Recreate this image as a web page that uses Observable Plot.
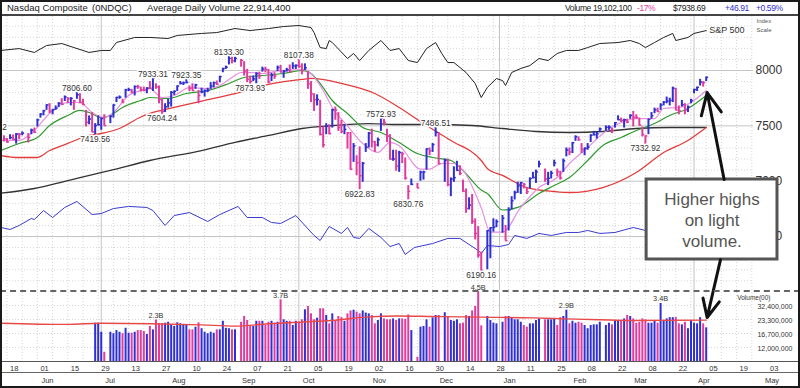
<!DOCTYPE html>
<html><head><meta charset="utf-8">
<script src="https://cdn.jsdelivr.net/npm/d3@7"></script>
<script src="https://cdn.jsdelivr.net/npm/@observablehq/plot@0.6"></script>
<style>
body{margin:0;background:#fff;}
#wrap{position:relative;width:800px;height:388px;overflow:hidden;font-family:Arial,"Liberation Sans",sans-serif;background:#fff;color:#222;}
.abs{position:absolute;}
#frame{left:0;top:0;width:800px;height:388px;box-sizing:border-box;border:2px solid #1a1a1a;z-index:20;pointer-events:none;}
#hdrline{left:0;top:14px;width:800px;height:2px;background:#444;z-index:5;}
.h{position:absolute;top:3px;font-size:9.5px;line-height:10px;white-space:nowrap;}
.hr{position:absolute;top:3px;font-size:8.5px;line-height:10px;letter-spacing:-0.4px;white-space:nowrap;}
#price{left:0;top:16px;z-index:2;}
#vol{left:0;top:292px;z-index:3;}
#axis{left:0;top:361px;z-index:1;}
#dash{left:0;top:290px;width:800px;height:0;border-top:2px dashed #666;z-index:4;}
#l1{left:0;top:361px;width:800px;height:1px;background:#555;z-index:4;}
#l2{left:0;top:372px;width:800px;height:1px;background:#666;z-index:4;}
</style></head>
<body>
<div id="wrap">
  <div class="h" style="left:7px">Nasdaq Composite</div>
  <div class="h" style="left:92px">(0NDQC)</div>
  <div class="h" style="left:147px">Average Daily Volume 22,914,400</div>
  <div class="hr" style="left:565px">Volume 19,102,100</div>
  <div class="hr" style="left:637px;color:#e040a0">-17%</div>
  <div class="hr" style="left:673px">$7938.69</div>
  <div class="hr" style="left:725px;color:#3030d0">+46.91</div>
  <div class="hr" style="left:756px;color:#3030d0">+0.59%</div>
  <div id="hdrline" class="abs"></div>
  <div id="price" class="abs"></div>
  <div id="dash" class="abs"></div>
  <div id="vol" class="abs"></div>
  <div id="l1" class="abs"></div>
  <div id="l2" class="abs"></div>
  <div id="axis" class="abs"></div>
  <div id="frame" class="abs"></div>
</div>
<script>
// ---------------- DATA ----------------
const holidays = ["2018-05-28","2018-07-04","2018-09-03","2018-11-22","2018-12-05","2018-12-25","2019-01-01","2019-01-21","2019-02-18"];
const firstDay = "2018-05-17", lastDay = "2019-04-05";

// daily highs (one per trading day, 2018-05-17 .. 2019-04-05)
const highs = [
 7410,7385, 7420,7418,7430,7432,7445, 7430,7470,7480,7560,
 7610,7640,7690,7700,7650, 7680,7710,7745,7770,7755, 7755,7730,7806.6,7790,7740, 7640,7590,7620,7520,7590,
 7570,7600,7590,7690, 7757,7770,7740,7830,7840, 7830,7860,7866,7850,7850, 7845,7900,7933.31,7880,7860,
 7740,7700,7740,7810,7815, 7860,7900,7895,7923.35,7860, 7880,7875,7820,7840,7825, 7840,7890,7895,7905,7948,
 8020,8040,8133.3,8120,8120, 8100,8080,8010,7950, 7950,7980,7985,8030,8030, 8010,7975,7980,8040,8045,
 8000,8020,8050,8070,8050, 8107.38,8060,8060,7990,7900, 7790,7780,7730,7490,7520, 7510,7650,7670,7620,7550,
 7510,7440,7440,7340,7230, 7310,7170,7340,7440,7470, 7360,7390,7572.93,7560,7470, 7420,7280,7280,7270,7260,
 7210,6960,7020,6980, 7090,7090,7292,7300,7340, 7486.51,7440,7200,7200, 7030,7130,7180,7140,7010,
 6930,6850,6880,6660,6590, 6360,6554,6580,6660, 6650,6690,6600,6760, 6860,6910,6990,6990,6980,
 6940,7030,7080,7100,7180, 7110,7080,7090,7190, 7110,7090,7200,7300,7300, 7350,7410,7400,7340,7300,
 7340,7420,7450,7440,7480, 7500,7500,7480,7530, 7590,7570,7560,7560,7600, 7630,7600,7570,7490,7410,
 7560,7620,7660,7660,7700, 7720,7760,7750,7850,7840, 7680,7730,7700,7680,7740, 7830,7850,7920,7900,7940
];
const lows = [
 7355,7345, 7375,7370,7335,7375,7410, 7345,7420,7430,7490,
 7570,7590,7640,7610,7600, 7640,7665,7690,7720,7700, 7680,7640,7740,7700,7685, 7490,7510,7440,7419.56,7500,
 7460,7500,7520,7570, 7710,7740,7700,7750,7810, 7790,7770,7830,7805,7810, 7790,7830,7810,7830,7700,
 7604.24,7620,7660,7670,7775, 7810,7870,7865,7880,7810, 7815,7830,7700,7790,7760, 7800,7830,7845,7865,7890,
 7980,8010,8050,8060,8070, 8030,7950,7890,7873.93, 7900,7880,7920,7985,7980, 7880,7900,7920,7990,7980,
 7930,7985,7980,8010,8010, 8020,7960,8000,7830,7710, 7630,7680,7410,7300,7420, 7420,7480,7550,7450,7430,
 7420,7290,7100,7170,7050, 6922.83,6990,7260,7300,7300, 7260,7310,7450,7500,7350, 7190,7180,7090,7080,7160,
 7010,6830.76,6960,6935, 7000,7010,7100,7230,7260, 7400,7150,6990,6950, 6860,6990,7090,7050,6900,
 6710,6740,6610,6470,6305, 6190.16,6200,6300,6540, 6580,6530,6460,6550, 6740,6830,6890,6880,6930,
 6880,6930,7020,6980,7120, 6990,6960,7020,7130, 7040,7010,7080,7220,7230, 7250,7360,7360,7250,7230,
 7280,7350,7410,7380,7440, 7450,7460,7430,7480, 7550,7530,7480,7520,7560, 7490,7560,7500,7400,7332.92,
 7420,7560,7610,7620,7640, 7680,7700,7680,7710,7640, 7600,7670,7600,7620,7700, 7790,7810,7860,7850,7900
];
const closes = [
 7382,7354, 7394,7378,7426,7424,7434, 7396,7462,7442,7554,
 7606,7637,7689,7635,7646, 7659,7703,7695,7761,7746, 7747,7725,7781,7712,7692, 7532,7561,7445,7503,7510,
 7567,7502,7586,7688, 7757,7759,7716,7824,7826, 7805,7855,7854,7825,7820, 7841,7840,7932,7852,7737,
 7630,7672,7707,7802,7812, 7860,7884,7888,7892,7839, 7819,7870,7775,7806,7816, 7821,7859,7889,7878,7945,
 8017,8030,8109,8088,8109, 8091,7995,7922,7902, 7924,7972,7954,8013,8010, 7895,7956,7950,8028,7986,
 7993,8007,7990,8041,8046, 8037,7999,8025,7879,7788, 7735,7738,7422,7329,7497, 7430,7645,7642,7485,7449,
 7468,7437,7108,7318,7167, 7050,7161,7306,7434,7357, 7328,7375,7570,7531,7407, 7200,7201,7136,7259,7247,
 7028,6908,6972,6939, 7082,7083,7292,7274,7331, 7441,7158,7188,6970, 7020,7032,7098,7070,6911,
 6753,6784,6637,6528,6333, 6193,6554,6579,6585, 6635,6665,6463,6739, 6823,6897,6957,6986,6971,
 6906,7024,7034,7084,7157, 7020,7026,7073,7165, 7085,7028,7184,7281,7264, 7348,7402,7375,7288,7298,
 7307,7415,7420,7427,7473, 7487,7489,7459,7528, 7555,7550,7555,7533,7595, 7577,7576,7506,7421,7408,
 7559,7592,7644,7630,7688, 7714,7724,7729,7839,7643, 7637,7692,7644,7669,7729, 7828,7848,7895,7891,7938.69
];
// daily volume in millions of (00) shares, from 2018-06-28
const volumeStart = "2018-06-28";
const volumes = [
 21.3,21.3, 17.2,10.7,17.2,16.6, 17.9,17.2,16.6,18.9,16.8, 16.8,17.2,17.9,17.9,17.5, 16.3,19.7,18.2,23.0,21.0,
 21.0,21.3,21.8,20.5,19.7, 21.5,21.0,20.5,20.2,18.2, 18.2,19.4,21.5,18.7,17.2, 16.6,17.2,16.8,18.2,18.2,
 22.3,18.9,18.7,18.2,18.2, 21.8,25.0,22.7,20.2, 19.7,22.3,22.3,22.3,20.2, 21.8,22.3,21.3,21.8,37.0,
 23.1,22.3,22.3,20.2,22.3, 21.8,23.1,29.3,31.7,26.6, 23.1,24.0,30.0,30.0,25.6, 21.0,26.6,22.7,25.0,24.3,
 22.3,26.6,28.5,29.0,27.7, 26.6,28.5,27.1,26.6,25.6, 21.0,22.7,26.6,23.6,23.1, 23.1,23.6,22.7,23.6,23.6,
 23.3,25.9,17.9,9.5, 19.4,19.7,23.1,19.4,24.2, 25.6,25.6,27.3,24.6, 22.7,22.3,23.1,21.0,21.3,
 25.6,25.0,28.5,31.7,45.0, 20.0,25.0,22.7,21.3, 21.0,21.8,25.0,25.0, 24.3,23.1,23.1,21.8,20.2,
 19.4,21.0,21.0,22.7,23.6, 23.1,23.1,23.1,23.6, 20.2,24.3,25.0,29.0,21.0, 22.3,21.3,21.8,21.3,20.2,
 18.7,20.2,20.5,20.5,21.8, 20.2,21.3,20.5,22.7, 22.7,22.7,23.6,25.6,25.0, 23.6,21.3,21.8,23.6,23.1,
 21.3,21.3,22.3,21.3,34.0, 22.3,23.6,24.3,24.3,24.3, 21.0,20.5,21.8,18.7,22.7, 21.3,21.0,24.3,21.0,19.1
];
// moving averages: [session number from 2018-05-18, value]
const ma10 = [[-2,7368],[4,7368],[9,7458],[14,7612],[20,7711],[24,7711],[28,7621],[32,7575],[35,7621],[40,7774],[44,7819],[47,7837],[51,7756],[55,7774],[60,7846],[66,7837],[70,7865],[74,7937],[77,7982],[80,7982],[84,7973],[90,8000],[98,8009],[100,7973],[104,7819],[107,7666],[112,7500],[117,7340],[122,7260],[126,7350],[129,7320],[136,7110],[139,7110],[143,7160],[147,7160],[150,7100],[156,6760],[159,6540],[163,6540],[169,6763],[175,6943],[181,7033],[185,7160],[191,7304],[196,7431],[202,7530],[207,7566],[213,7566],[216,7657],[221,7666],[225,7711],[230,7819]];
const ma21 = [[-2,7277],[4,7341],[10,7395],[14,7503],[20,7594],[24,7639],[27,7621],[31,7575],[34,7594],[38,7666],[44,7729],[47,7756],[53,7747],[59,7792],[66,7819],[73,7883],[78,7937],[84,7955],[91,7973],[97,8000],[100,7973],[103,7883],[107,7729],[112,7612],[117,7485],[123,7440],[129,7350],[135,7250],[140,7214],[146,7187],[150,7097],[156,6920],[158,6889],[163,6740],[168,6763],[175,6889],[180,6961],[185,7033],[191,7187],[196,7323],[202,7395],[207,7458],[213,7521],[218,7594],[224,7657],[230,7774]];
const ma50 = [[-2,7232],[4,7214],[10,7214],[14,7277],[20,7341],[27,7413],[31,7431],[37,7476],[44,7580],[47,7612],[55,7666],[65,7730],[75,7792],[86,7874],[97,7919],[100,7928],[110,7883],[121,7792],[129,7666],[137,7521],[146,7368],[156,7187],[158,7115],[163,7052],[171,6943],[180,6907],[185,6898],[196,6943],[207,7079],[216,7259],[224,7368],[230,7485]];
const ma200 = [[-2,6892],[9,6934],[20,7006],[34,7097],[47,7187],[64,7277],[75,7350],[86,7413],[97,7476],[107,7503],[119,7521],[129,7512],[140,7512],[153,7503],[163,7476],[174,7449],[185,7440],[196,7449],[207,7476],[218,7485],[230,7485]];
// S&P 500 index (own index scale)
const spx = [[-2,2724],[4,2739],[9,2708],[13,2763],[18,2779],[22,2747],[27,2708],[31,2724],[34,2724],[36,2787],[42,2827],[47,2827],[53,2819],[56,2843],[64,2859],[69,2866],[75,2898],[80,2882],[86,2898],[91,2914],[96,2922],[100,2906],[101,2866],[103,2747],[105,2739],[106,2803],[107,2787],[112,2660],[114,2700],[116,2644],[119,2724],[123,2803],[126,2724],[129,2739],[132,2644],[135,2628],[138,2739],[141,2787],[143,2700],[145,2628],[147,2628],[151,2549],[154,2462],[156,2350],[158,2430],[161,2501],[163,2485],[164,2446],[166,2549],[169,2581],[172,2604],[175,2660],[178,2644],[181,2700],[184,2724],[188,2724],[191,2747],[195,2779],[201,2787],[205,2803],[208,2779],[210,2747],[213,2787],[216,2827],[219,2859],[220,2803],[224,2827],[226,2859],[230,2882]];
// relative strength line (drawn on the price index scale)
const rsLine = [[-2,6582],[1,6564],[4,6600],[8,6663],[9,6654],[12,6735],[15,6672],[19,6763],[23,6817],[28,6699],[31,6708],[35,6753],[40,6772],[46,6763],[48,6735],[52,6600],[55,6690],[60,6717],[66,6636],[70,6699],[76,6772],[79,6672],[84,6672],[87,6627],[90,6618],[95,6690],[101,6510],[103,6464],[106,6591],[110,6528],[112,6582],[114,6492],[116,6483],[119,6573],[123,6492],[126,6410],[129,6437],[131,6338],[134,6401],[140,6437],[145,6483],[149,6483],[155,6374],[156,6347],[158,6419],[162,6410],[165,6428],[167,6510],[171,6483],[175,6528],[179,6510],[184,6537],[188,6537],[191,6555],[195,6528],[200,6537],[206,6582],[210,6555],[220,6560],[230,6580]];
// 50-day volume average
const volAvg = [[-2,21.3],[20,20.7],[31,21.3],[64,20.5],[75,19.9],[86,21.0],[102,22.3],[107,22.7],[118,24.6],[129,25.3],[140,25.0],[156,24.6],[173,24.2],[184,23.6],[195,23.1],[206,22.7],[230,22.9]];
// labelled highs / lows
const priceLabels = [
 ["2018-05-11",7449,"7448.42","high"],["2018-06-20",7806.6,"7806.60","high"],["2018-06-28",7419.56,"7419.56","low"],
 ["2018-07-25",7933.31,"7933.31","high"],["2018-07-30",7604.24,"7604.24","low"],["2018-08-09",7923.35,"7923.35","high"],
 ["2018-08-29",8133.3,"8133.30","high"],["2018-09-07",7873.93,"7873.93","low"],["2018-10-01",8107.38,"8107.38","high"],
 ["2018-10-29",6922.83,"6922.83","low"],["2018-11-07",7572.93,"7572.93","high"],["2018-11-20",6830.76,"6830.76","low"],
 ["2018-12-03",7486.51,"7486.51","high"],["2018-12-24",6190.16,"6190.16","low"],["2019-03-08",7332.92,"7332.92","low"]
];
const volLabels = [["2018-07-26","2.3B"],["2018-09-21","3.7B"],["2018-12-21","4.5B"],["2019-01-31","2.9B"],["2019-03-15","3.4B"]];
const priceTicks = [6500,7000,7500,8000];
const volTicks = [12,16.7,23.3,32.4];
const dayTicks = ["2018-05-18","2018-06-01","2018-06-15","2018-06-29","2018-07-13","2018-07-27","2018-08-10","2018-08-24","2018-09-07","2018-09-21","2018-10-05","2018-10-19","2018-11-02","2018-11-16","2018-11-30","2018-12-14","2018-12-28","2019-01-11","2019-01-25","2019-02-08","2019-02-22","2019-03-08","2019-03-22","2019-04-05","2019-04-19","2019-05-03"];
const monthStarts = [["2018-06-01","Jun"],["2018-07-02","Jul"],["2018-08-01","Aug"],["2018-09-03","Sep"],["2018-10-01","Oct"],["2018-11-01","Nov"],["2018-12-03","Dec"],["2019-01-01","Jan"],["2019-02-01","Feb"],["2019-03-01","Mar"],["2019-04-01","Apr"],["2019-05-01","May"]];
const quarterStarts = ["2018-07-02","2018-10-01","2019-01-01","2019-04-01"];
const note = {text:"Higher highs\non light\nvolume.", x1:210.4, x2:253.45, y1:6292.7, y2:7015.4};
const arrowUp = [{x1:235.9, y1:7015, x2:230.3, y2:7801}];
const arrowDown = [{x1:234.7, y1:96, x2:230.3, y2:24.4}];

// ---------------- HELPERS ----------------
const BLUE = "#2f2fd2", PINK = "#e03c9c";
const t0 = Date.UTC(2018,4,18);
function wd(s){ // weekday session number counted from 2018-05-18
  const d = Date.parse(s + "T00:00:00Z");
  const n = Math.round((d - t0)/864e5);
  const w = Math.floor(n/7), r = n - 7*w;
  return 5*w + [0,0.5,0.5,1,2,3,4][r];
}
const hol = new Set(holidays);
const days = [];
for (let t = Date.parse(firstDay+"T00:00:00Z"); t <= Date.parse(lastDay+"T00:00:00Z"); t += 864e5){
  const d = new Date(t), g = d.getUTCDay(), s = d.toISOString().slice(0,10);
  if (g===0 || g===6 || hol.has(s)) continue;
  days.push(s);
}
if (days.length !== closes.length || highs.length !== closes.length || lows.length !== closes.length) console.error("length mismatch", days.length, highs.length, lows.length, closes.length);
const bars = days.map((d,k)=>({i:wd(d), high:highs[k], low:lows[k], close:closes[k], color:(k>0 && closes[k]>=closes[k-1]) ? BLUE : PINK}));
const vStart = days.indexOf(volumeStart);
if (days.length - vStart !== volumes.length) console.error("volume mismatch", days.length - vStart, volumes.length);
const vbars = volumes.map((v,k)=>({i:bars[vStart+k].i, v, color:bars[vStart+k].color}));
const spToPrice = v => 8415.5 - (2930 - v)*1.138;

const PX = 3.04;             // px per session
const xDomPrice = [-2.14, -2.14 + 753/PX];
const xDomAxis  = [-2.14, -2.14 + 800/PX];
const weekGrid = d3.range(-5, 262, 5);
const minorGrid = d3.range(6100, 8500, 100).filter(v => v % 500 !== 0);
const font = "Arial, 'Liberation Sans', sans-serif";
const st = {background:"transparent", overflow:"visible", fontFamily:font};

// ---------------- PRICE PANEL ----------------
const price = Plot.plot({
  width:800, height:274, marginLeft:0, marginRight:47, marginTop:0, marginBottom:0,
  style:st,
  x:{type:"linear", domain:xDomPrice, axis:null},
  y:{type:"linear", domain:[6012.7, 8487.8], axis:null},
  marks:[
    Plot.ruleY(minorGrid, {stroke:"#d6d6d6", strokeDasharray:"1,2"}),
    Plot.ruleX(weekGrid.filter(v=>v<=xDomPrice[1]), {stroke:"#d6d6d6", strokeDasharray:"1,2"}),
    Plot.ruleX(quarterStarts, {x:d=>wd(d), stroke:"#c4c4c4"}),
    Plot.ruleY(priceTicks, {stroke:"#c4c4c4"}),
    Plot.text(priceTicks, {y:d=>d, frameAnchor:"right", dx:2, textAnchor:"start", text:d=>String(d), fontSize:12, fill:"#333"}),
    Plot.text(["Index"], {frameAnchor:"top-right", dx:3, dy:2, textAnchor:"start", text:d=>d, fontSize:6, fill:"#555"}),
    Plot.text(["Scale"], {frameAnchor:"top-right", dx:3, dy:11, textAnchor:"start", text:d=>d, fontSize:6, fill:"#555"}),
    Plot.line(spx, {x:d=>d[0], y:d=>spToPrice(d[1]), stroke:"#222", strokeWidth:1}),
    Plot.text([spx[spx.length-1]], {x:d=>d[0], y:d=>spToPrice(d[1]), text:()=> "S&P 500", dx:3, textAnchor:"start", fontSize:9, fill:"#333"}),
    Plot.line(rsLine, {x:d=>d[0], y:d=>d[1], stroke:"#3a3ad0", strokeWidth:1}),
    Plot.line(ma200, {x:d=>d[0], y:d=>d[1], stroke:"#333", strokeWidth:1.3, curve:"monotone-x"}),
    Plot.line(ma50, {x:d=>d[0], y:d=>d[1], stroke:"#e33b3b", strokeWidth:1.3, curve:"monotone-x"}),
    Plot.line(ma21, {x:d=>d[0], y:d=>d[1], stroke:"#2e992e", strokeWidth:1.2, curve:"monotone-x"}),
    Plot.line(ma10, {x:d=>d[0], y:d=>d[1], stroke:"#e690e0", strokeWidth:1.2, curve:"monotone-x"}),
    Plot.ruleX(bars, {x:"i", y1:"low", y2:"high", stroke:"color", strokeWidth:2}),
    Plot.ruleY(bars, {x1:"i", x2:d=>d.i+0.8, y:"close", stroke:"color", strokeWidth:1.5}),
    Plot.text(priceLabels.filter(d=>d[3]==="high"), {x:d=>wd(d[0]), y:d=>d[1], text:d=>d[2], lineAnchor:"bottom", dy:-1, fontSize:8.3, fill:"#333", stroke:"white", strokeWidth:3}),
    Plot.text(priceLabels.filter(d=>d[3]==="low"), {x:d=>wd(d[0]), y:d=>d[1], text:d=>d[2], lineAnchor:"top", dy:1, fontSize:8.3, fill:"#333", stroke:"white", strokeWidth:3}),
    Plot.rect([note], {x1:"x1", x2:"x2", y1:"y1", y2:"y2", fill:"white", stroke:"#555", strokeWidth:3}),
    Plot.text([note], {x:d=>(d.x1+d.x2)/2, y:d=>(d.y1+d.y2)/2, text:"text", fontSize:17, lineHeight:1.22, fill:"#555"}),
    Plot.arrow(arrowUp, {x1:"x1", y1:"y1", x2:"x2", y2:"y2", stroke:"#111", strokeWidth:3, headLength:12, headAngle:50})
  ]
});
document.getElementById("price").appendChild(price);

// ---------------- VOLUME PANEL ----------------
const fmt = d3.format(",");
const vol = Plot.plot({
  width:800, height:69, marginLeft:0, marginRight:47, marginTop:0, marginBottom:0,
  style:st,
  x:{type:"linear", domain:xDomPrice, axis:null},
  y:{type:"log", domain:[8.6, 44.1], axis:null},
  marks:[
    Plot.ruleY(volTicks, {stroke:"#d6d6d6", strokeDasharray:"1,2"}),
    Plot.ruleX(weekGrid.filter(v=>v<=xDomPrice[1]), {stroke:"#d6d6d6", strokeDasharray:"1,2"}),
    Plot.ruleX(quarterStarts, {x:d=>wd(d), stroke:"#c4c4c4"}),
    Plot.ruleX(vbars, {x:"i", y1:8.6, y2:"v", stroke:"color", strokeWidth:2}),
    Plot.line(volAvg, {x:d=>d[0], y:d=>d[1], stroke:"#e84848", strokeWidth:1.4, curve:"monotone-x"}),
    Plot.text(volLabels, {x:d=>wd(d[0]), y:d=>vbars.find(b=>b.i===wd(d[0])).v, text:d=>d[1], lineAnchor:"bottom", dy:-2, fontSize:7.3, fill:"#333"}),
    Plot.text(volTicks, {y:d=>d, frameAnchor:"right", dx:39, dy:1, textAnchor:"end", text:d=>fmt(Math.round(d*1e6)), fontSize:7, fill:"#333"}),
    Plot.text(["Volume(00)"], {frameAnchor:"top-right", dx:17, dy:3, textAnchor:"end", text:d=>d, fontSize:6.5, fill:"#333"}),
    Plot.arrow(arrowDown, {x1:"x1", y1:"y1", x2:"x2", y2:"y2", stroke:"#111", strokeWidth:3, headLength:12, headAngle:50})
  ]
});
document.getElementById("vol").appendChild(vol);

// ---------------- DATE AXIS ----------------
const axis = Plot.plot({
  width:800, height:25, margin:0,
  style:st,
  x:{type:"linear", domain:xDomAxis, axis:null},
  y:{type:"band", domain:["d","m"], range:[0,25], padding:0, axis:null},
  marks:[
    Plot.ruleX(dayTicks, {x:d=>wd(d), y:()=>"d", stroke:"#555"}),
    Plot.text(dayTicks, {x:d=>wd(d), y:()=>"d", text:d=>d.slice(8,10), textAnchor:"start", dx:3, fontSize:7.5, fill:"#333"}),
    Plot.ruleX(monthStarts, {x:d=>wd(d[0]), y:()=>"m", stroke:"#555"}),
    Plot.text(monthStarts, {x:d=>wd(d[0]), y:()=>"m", text:d=>d[1], textAnchor:"start", dx:4, fontSize:7.5, fill:"#333"})
  ]
});
document.getElementById("axis").appendChild(axis);
</script>
</body></html>
